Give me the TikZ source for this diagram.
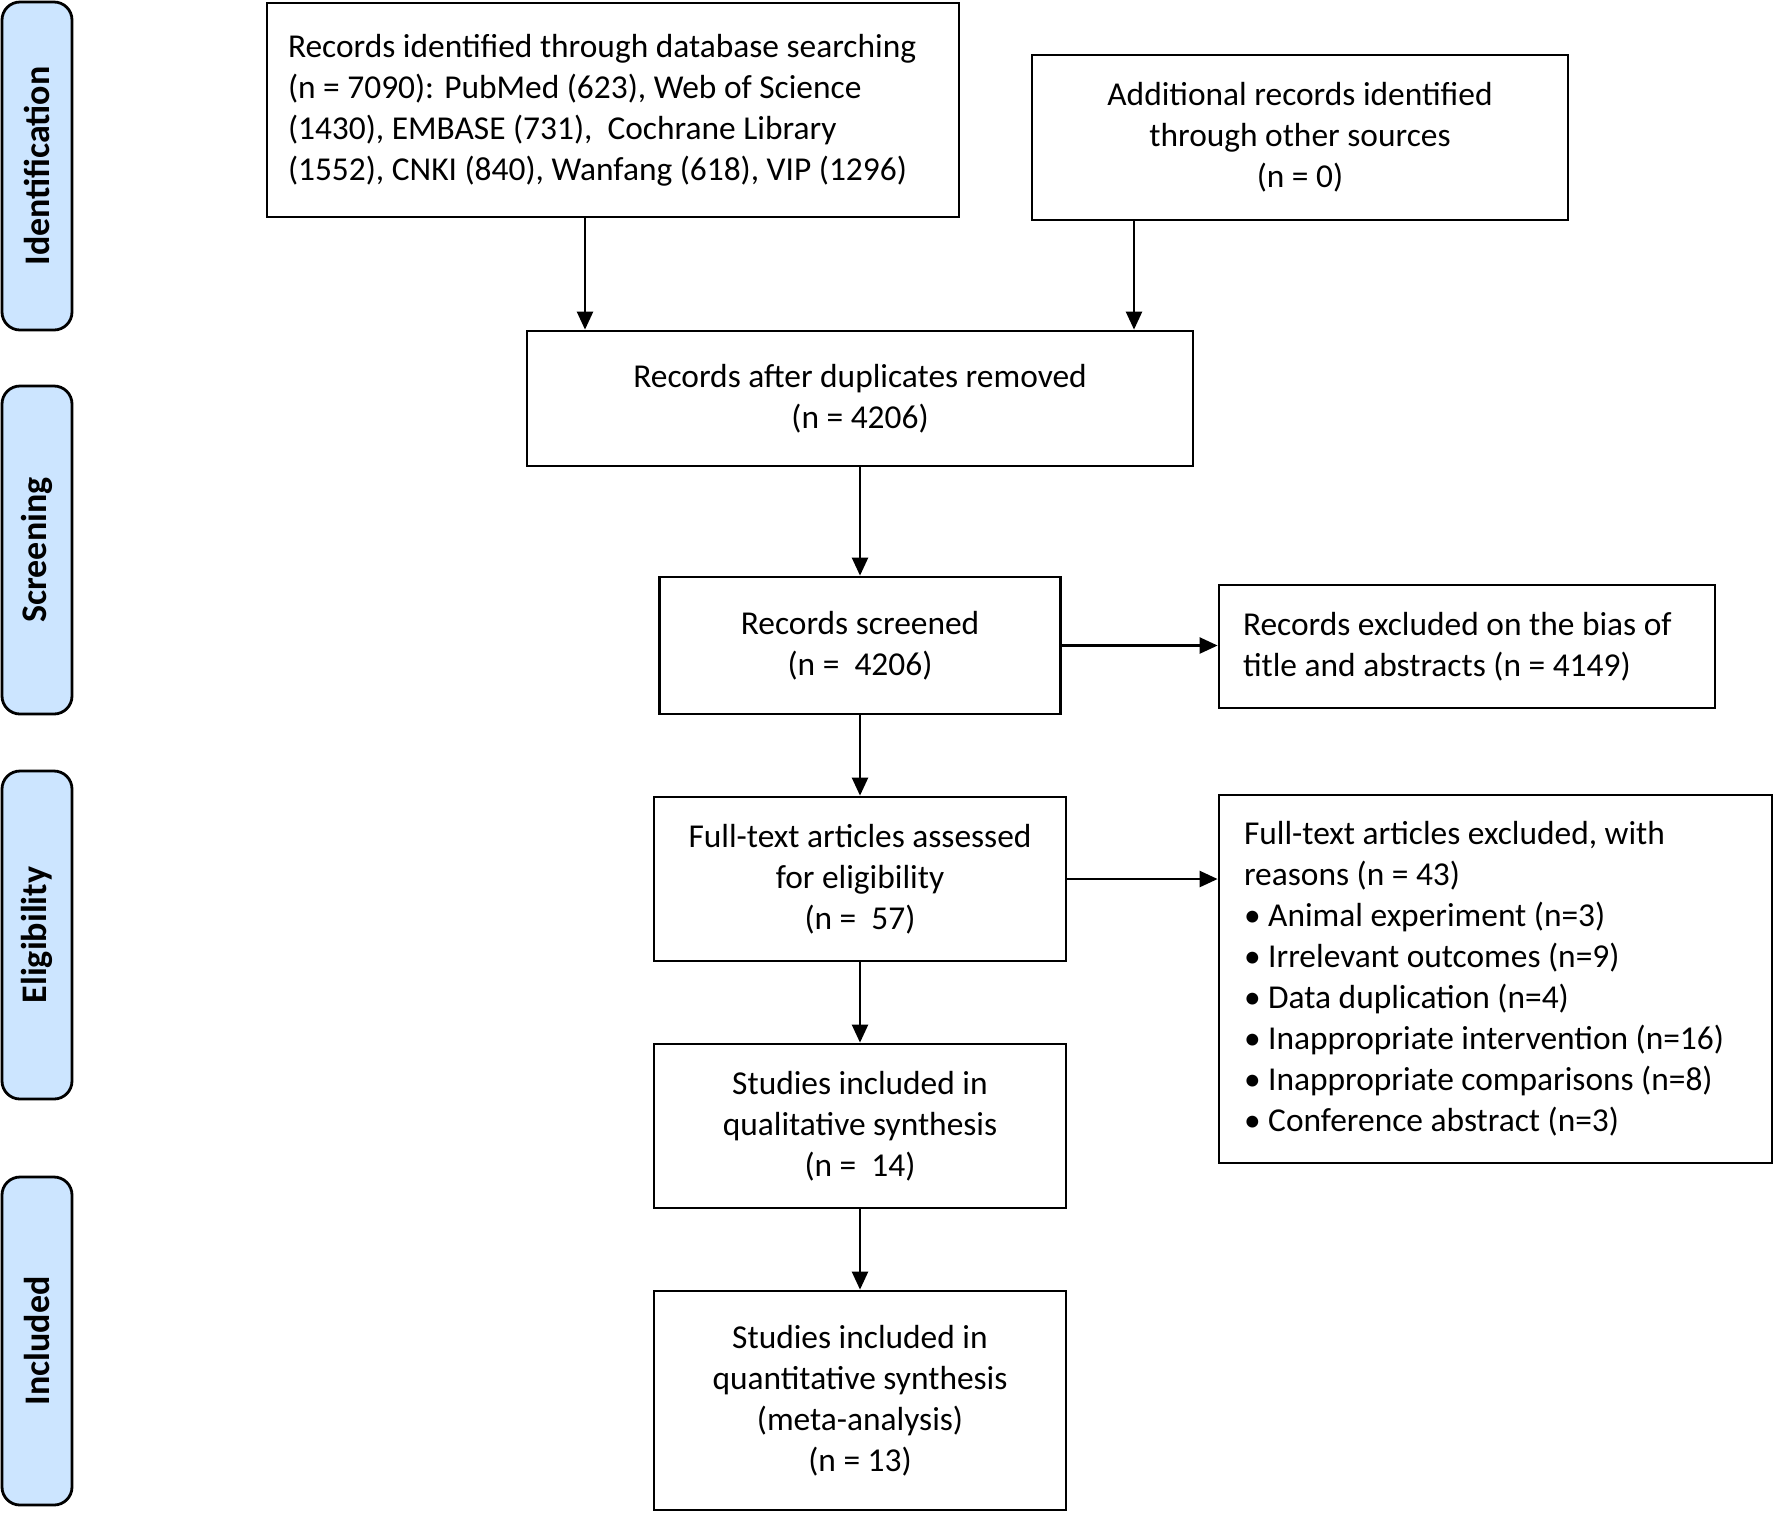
\documentclass[tikz,border=0pt]{standalone}
\usepackage{fontspec}
\setmainfont{Carlito}
\usetikzlibrary{arrows.meta,positioning}
\definecolor{stageblue}{RGB}{204,229,255}

\begin{document}
\begin{tikzpicture}[x=0.5pt,y=-0.5pt,
    box/.style={draw, line width=1.4pt, inner sep=0pt, font=\fontsize{16.7}{20.5}\selectfont},
    stage/.style={draw, line width=1.4pt, fill=stageblue, rounded corners=9pt,
        minimum width=164pt, minimum height=35pt, rotate=90, inner sep=0pt,
        font=\fontsize{18}{20}\selectfont\bfseries},
    flow/.style={-{Triangle[length=9pt,width=8pt]}, line width=1.2pt}]
    \useasboundingbox (0,0) rectangle (1775,1512);

    % Stage labels on the left
    \node[stage] (ident) at (37,166) {Identification};
    \node[stage] (screen) at (37,550) {Screening};
    \node[stage] (elig) at (37,935) {Eligibility};
    \node[stage] (incl) at (37,1341) {Included};

    % Identification
    \node[box, align=flush left, text width=325pt, minimum width=346pt, minimum height=107pt] (records) at (613,110)
        {Records identified through database searching\\
         (n = 7090): PubMed (623), Web of Science\\
         (1430), EMBASE (731), \ Cochrane Library\\
         (1552), CNKI (840), Wanfang (618), VIP (1296)};
    \node[box, align=center, minimum width=268pt, minimum height=82.5pt] (other) at (1300,137.5)
        {Additional records identified\\ through other sources\\ (n = 0)};

    % Screening
    \node[box, align=center, minimum width=333pt, minimum height=67.5pt] (dupl) at (860,398.5)
        {Records after duplicates removed\\ (n = 4206)};
    \node[box, align=center, minimum width=200.5pt, minimum height=68.5pt] (screened) at (860,645.5)
        {Records screened\\ (n = \ 4206)};
    \node[box, align=flush left, text width=224pt, minimum width=248pt, minimum height=61.5pt] (excl) at (1467,646.5)
        {Records excluded on the bias of\\ title and abstracts (n = 4149)};

    % Eligibility
    \node[box, align=center, minimum width=206pt, minimum height=82pt] (fulltext) at (860,879)
        {Full-text articles assessed\\ for eligibility\\ (n = \ 57)};
    \node[box, align=flush left, text width=251.5pt, minimum width=276.5pt, minimum height=184pt] (ftexcl) at (1495.5,979)
        {Full-text articles excluded, with\\
         reasons (n = 43)\\
         • Animal experiment (n=3)\\
         • Irrelevant outcomes (n=9)\\
         • Data duplication (n=4)\\
         • Inappropriate intervention (n=16)\\
         • Inappropriate comparisons (n=8)\\
         • Conference abstract (n=3)};

    % Included
    \node[box, align=center, minimum width=206pt, minimum height=82pt] (qual) at (860,1126)
        {Studies included in\\ qualitative synthesis\\ (n = \ 14)};
    \node[box, align=center, minimum width=206pt, minimum height=109.5pt] (quant) at (860,1400.5)
        {Studies included in\\ quantitative synthesis\\ (meta-analysis)\\ (n = 13)};

    % Arrows
    \draw[flow] ([xshift=-14pt]records.south) -- ([xshift=-14pt]records.south |- dupl.north);
    \draw[flow] ([xshift=-83pt]other.south) -- ([xshift=-83pt]other.south |- dupl.north);
    \draw[flow] (dupl.south) -- (screened.north);
    \draw[flow] (screened.east) -- (screened.east -| excl.west);
    \draw[flow] (screened.south) -- (fulltext.north);
    \draw[flow] (fulltext.east) -- (fulltext.east -| ftexcl.west);
    \draw[flow] (fulltext.south) -- (qual.north);
    \draw[flow] (qual.south) -- (quant.north);
\end{tikzpicture}
\end{document}
